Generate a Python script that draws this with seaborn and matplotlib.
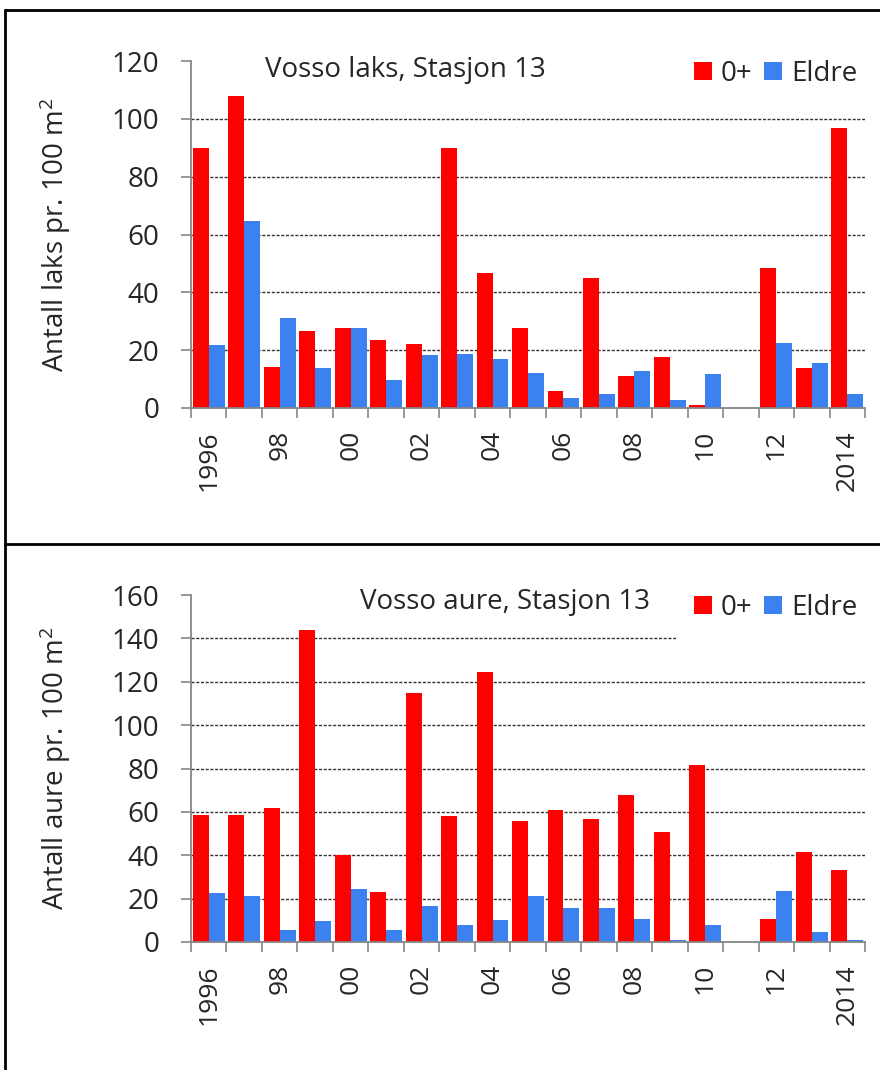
import numpy as np
import pandas as pd
import matplotlib
matplotlib.use("Agg")
import matplotlib.pyplot as plt
from matplotlib.lines import Line2D
import seaborn as sns

years = [str(y) for y in range(1996, 2015)]
xlabels = ["1996", "", "98", "", "00", "", "02", "", "04", "", "06", "",
           "08", "", "10", "", "12", "", "2014"]

laks_0 = [90, 108, 14.2, 26.6, 27.5, 23.5, 22.2, 89.8, 46.7, 27.5, 5.8, 44.8,
          11.1, 17.8, 0.9, 0, 48.4, 13.7, 96.8]
laks_eldre = [21.7, 64.8, 31.2, 13.7, 27.5, 9.7, 18.3, 18.7, 16.9, 12.0, 3.5, 4.9,
              12.8, 2.7, 11.6, 0, 22.6, 15.5, 4.9]

aure_0 = [58.6, 58.6, 61.6, 143.8, 40.2, 23.2, 114.8, 58.0, 124.3, 55.6, 60.8, 56.6,
          68.0, 50.8, 81.5, 0, 10.6, 41.3, 33.0]
aure_eldre = [22.4, 21.3, 5.4, 9.5, 24.3, 5.4, 16.6, 7.8, 10.1, 21.3, 15.8, 15.8,
              10.6, 0.7, 7.7, 0, 23.6, 4.6, 0.7]

groups = ["0+", "Eldre"]
RED = "#FF0000"
BLUE = "#3B82F0"
GRAY = "#868686"

sns.set_theme(style="white")
plt.rcParams["font.family"] = ["Open Sans", "DejaVu Sans"]
plt.rcParams["mathtext.fontset"] = "custom"
plt.rcParams["mathtext.rm"] = "Open Sans"
FS = 20
XFS = 19

W, H = 880, 1070
fig = plt.figure(figsize=(W / 100, H / 100), dpi=100)

panels = [
    dict(v0=laks_0, v1=laks_eldre, ymax=120, title="Vosso laks, Stasjon 13",
         ylabel="Antall laks pr. 100 m$\\mathregular{^2}$", top=61, bottom=408, tx=265, ty=70),
    dict(v0=aure_0, v1=aure_eldre, ymax=160, title="Vosso aure, Stasjon 13",
         ylabel="Antall aure pr. 100 m$\\mathregular{^2}$", top=595, bottom=942, tx=360, ty=602),
]

left_px, right_px = 191, 865
for p in panels:
    ax = fig.add_axes([left_px / W, 1 - p["bottom"] / H,
                       (right_px - left_px) / W, (p["bottom"] - p["top"]) / H])
    df = pd.DataFrame({
        "year": years * 2,
        "group": [groups[0]] * len(years) + [groups[1]] * len(years),
        "value": list(p["v0"]) + list(p["v1"]),
    })
    sns.barplot(data=df, x="year", y="value", hue="group", order=years,
                hue_order=groups, palette={groups[0]: RED, groups[1]: BLUE},
                width=0.9, linewidth=0, saturation=1, ax=ax, zorder=2)
    n = len(years)
    ax.set_xlim(-0.5, n - 0.5)
    ax.set_ylim(0, p["ymax"])
    yt = np.arange(0, p["ymax"] + 1, 20)
    ax.set_yticks(yt)
    ax.set_yticklabels([str(int(v)) for v in yt], fontsize=FS)
    for v in yt[1:-1]:
        ax.axhline(v, color="#333333", lw=1.0, ls=(0, (2.2, 1.2)), zorder=1)

    ax.set_xticks(np.arange(-0.5, n, 1.0))
    ax.set_xticklabels([""] * (n + 1))
    ax.set_xticks(np.arange(n), minor=True)
    ax.set_xticklabels(xlabels, minor=True, rotation=90, fontsize=XFS)
    ax.tick_params(axis="x", which="major", length=7, width=1.2, color=GRAY,
                   direction="out", bottom=True)
    ax.tick_params(axis="x", which="minor", length=0, pad=16, bottom=True)
    ax.tick_params(axis="y", which="major", length=7, width=1.2, color=GRAY,
                   direction="out", pad=16, left=True)

    for s in ["top", "right"]:
        ax.spines[s].set_visible(False)
    for s in ["left", "bottom"]:
        ax.spines[s].set_color(GRAY)
        ax.spines[s].set_linewidth(1.3)

    ax.set_xlabel("")
    ax.set_ylabel(p["ylabel"], fontsize=FS)
    ax.yaxis.set_label_coords(-0.175, 0.5)

    ax.text((p["tx"] - left_px) / (right_px - left_px),
            (p["bottom"] - p["ty"]) / (p["bottom"] - p["top"]),
            p["title"], transform=ax.transAxes, fontsize=FS,
            ha="left", va="center")

    handles, labels = ax.get_legend_handles_labels()
    if ax.get_legend() is not None:
        ax.get_legend().remove()
    leg = ax.legend(handles, labels, loc="upper right",
                    bbox_to_anchor=(1.015, 1.055), ncol=2, fontsize=FS,
                    frameon=True, facecolor="white", edgecolor="none",
                    framealpha=1, fancybox=False, borderpad=0.65,
                    handlelength=0.65, handleheight=0.65, handletextpad=0.32,
                    columnspacing=0.4, borderaxespad=0)
    leg.set_zorder(5)

# panel frame lines
lw = 2
fig.add_artist(Line2D([5 / W, 5 / W], [0, 1 - 10 / H], transform=fig.transFigure,
                      color="black", lw=lw))
fig.add_artist(Line2D([5 / W, 1], [1 - 10 / H, 1 - 10 / H], transform=fig.transFigure,
                      color="black", lw=lw))
fig.add_artist(Line2D([5 / W, 1], [1 - 544 / H, 1 - 544 / H], transform=fig.transFigure,
                      color="black", lw=lw))

fig.savefig("out.png", dpi=100)
